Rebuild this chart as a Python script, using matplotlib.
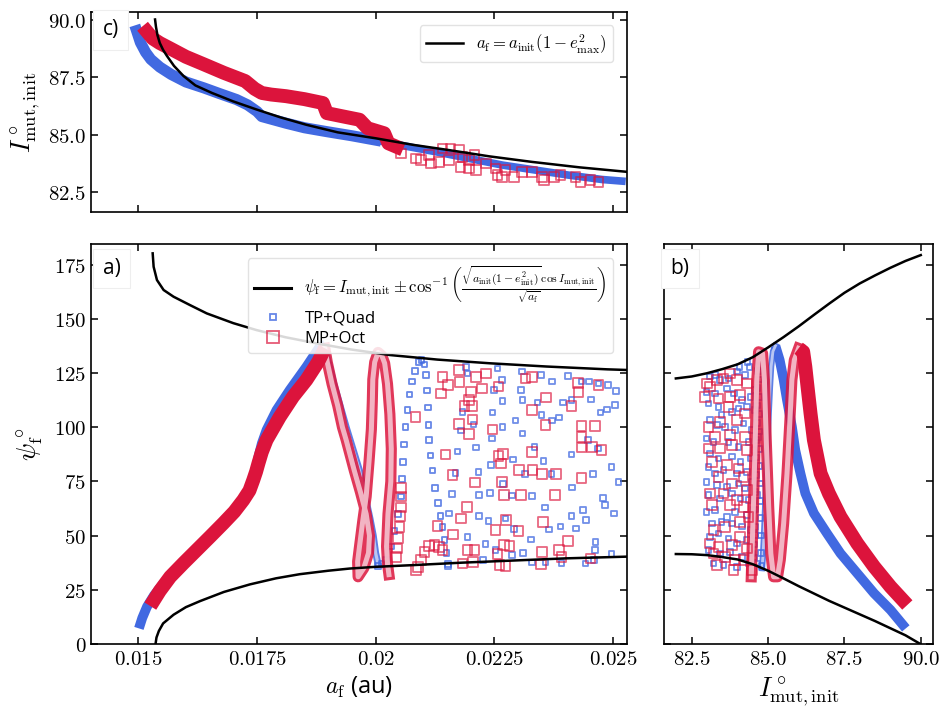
import matplotlib
matplotlib.use("Agg")
import matplotlib.pyplot as plt
from matplotlib.lines import Line2D

plt.rcParams['mathtext.fontset'] = 'cm'
plt.rcParams['font.family'] = ['Open Sans', 'DejaVu Sans']

BLUE = '#4169e1'
RED = '#dc143c'
BLUE_IN = '#c5d0f5'
RED_IN = '#f5c3cf'

# ---- black analytic curves ----
a_upper_x = [0.0153, 0.01532, 0.01539, 0.01553, 0.01574, 0.01609, 0.01644, 0.0170, 0.01749, 0.0181, 0.01875, 0.0195,
             0.0203, 0.0213, 0.0224, 0.0236, 0.02488, 0.0253]
a_upper_y = [180.2, 174.0, 167.9, 163.3, 160.2, 156.3, 152.5, 148.0, 144.8, 141.5, 138.7, 135.8, 133.3, 131.2, 129.5,
             128.0, 126.7, 126.4]
a_lower_x = [0.01536, 0.01538, 0.01543, 0.01552, 0.01574, 0.016, 0.0163, 0.0168, 0.01735, 0.0179, 0.0184, 0.019,
             0.01945, 0.0200, 0.0208, 0.0218, 0.0229, 0.024, 0.0253]
a_lower_y = [0.0, 3.0, 6.0, 9.5, 13.5, 17.0, 19.8, 24.0, 27.5, 30.3, 32.2, 33.8, 34.8, 35.6, 36.4, 37.5, 38.5, 39.5, 40.3]

b_upper_x = [81.98, 82.5, 83.0, 83.5, 84.0, 84.5, 85.0, 85.5, 86.0, 86.5, 87.0, 87.5, 88.0, 88.5, 89.0, 89.5, 90.0]
b_upper_y = [122.5, 123.4, 124.9, 126.8, 129.0, 132.3, 136.8, 141.5, 146.5, 151.8, 157.0, 162.0, 166.3, 170.0, 173.5,
             176.7, 179.4]
b_lower_x = [81.98, 82.5, 83.0, 83.5, 84.0, 84.5, 85.0, 85.5, 86.0, 86.5, 87.0, 87.5, 88.0, 88.5, 89.0, 89.5, 89.95]
b_lower_y = [41.5, 41.4, 41.0, 40.1, 39.0, 36.8, 33.8, 30.3, 26.7, 23.3, 19.9, 16.8, 13.7, 10.6, 7.3, 4.0, 0.3]

c_curve_x = [0.01535, 0.01537, 0.0154, 0.01545, 0.01552, 0.0156, 0.01575, 0.01595, 0.0162, 0.01655, 0.017, 0.0175,
             0.018, 0.01854, 0.0192, 0.0200, 0.0208, 0.02156, 0.0224, 0.02329, 0.0243, 0.02532]
c_curve_y = [90.03, 89.7, 89.35, 89.0, 88.7, 88.44, 88.0, 87.56, 87.15, 86.82, 86.45, 86.09, 85.75, 85.43, 85.1, 84.84,
             84.55, 84.32, 84.05, 83.81, 83.57, 83.37]

# ---- panel a: psi_f vs a_f ----
a_blue_rise_x = [0.01501, 0.01508, 0.01518, 0.01533, 0.01553, 0.0158, 0.01609, 0.01637, 0.01665, 0.0169, 0.01714,
                 0.01729, 0.01739, 0.01747, 0.01753, 0.0176, 0.0177, 0.01791, 0.01819, 0.01854, 0.01882]
a_blue_rise_y = [7.2, 12.0, 17.2, 22.5, 28.0, 34.5, 40.3, 46.5, 52.6, 58.7, 64.9, 69.5, 74.1, 80.0, 86.4, 92.5, 98.7,
                 107.9, 117.2, 127.9, 137.1]
a_blue_desc_x = [0.01886, 0.01895, 0.01903, 0.01912, 0.01925, 0.01938, 0.01952, 0.01966, 0.01978, 0.01988, 0.01995, 0.0200, 0.02005]
a_blue_desc_y = [138, 134, 128, 120, 110, 100, 90, 80, 68, 58, 50, 42, 37]
a_blue_arch_x = [0.02005, 0.02012, 0.02022, 0.02032, 0.0204, 0.02047, 0.02053, 0.02056, 0.02058, 0.0206, 0.02063,
                 0.02067, 0.02071, 0.02077, 0.02083, 0.0209, 0.02097, 0.02103, 0.02106, 0.02108, 0.0211, 0.02111,
                 0.02113, 0.02116, 0.0212, 0.02125, 0.02131, 0.02137, 0.02141, 0.02145, 0.02149, 0.02152]
a_blue_arch_y = [36, 37, 39, 45, 52, 60, 68, 76, 84, 92, 100, 108, 115, 121, 126, 130, 131, 129, 124, 117, 109, 101,
                 94, 87, 80, 72, 65, 59, 54, 48, 42, 37]
a_blue_scat_x = [0.0219, 0.02194, 0.02257, 0.02266, 0.02309, 0.02348, 0.02372, 0.02406, 0.02434, 0.0245, 0.0247, 0.0249,
                 0.02507, 0.0225, 0.02306, 0.02267, 0.0231, 0.02341, 0.02395, 0.02413, 0.02454, 0.02504, 0.02488, 0.02474,
                 0.02386, 0.02372, 0.0235, 0.02246, 0.02183, 0.02295, 0.02267, 0.0218, 0.02206, 0.0231, 0.02245, 0.02211,
                 0.02173, 0.02335, 0.02413, 0.02448, 0.02469, 0.02497, 0.02512, 0.02458, 0.02371, 0.02354, 0.02315, 0.0229,
                 0.02243, 0.02217, 0.02168, 0.02161, 0.02218, 0.02241, 0.02268, 0.02288, 0.0233, 0.02414, 0.02479, 0.02484,
                 0.02502, 0.02437, 0.02413, 0.02357, 0.02218, 0.02238, 0.02274, 0.02292, 0.02328, 0.02155, 0.02194, 0.02232,
                 0.02253, 0.02288, 0.02311, 0.0233, 0.02365, 0.0239, 0.02422, 0.02443, 0.02463, 0.02462, 0.02497, 0.0246,
                 0.02442, 0.02392, 0.02358, 0.02226, 0.02152]
a_blue_scat_y = [127.9, 124.8, 127.1, 121.7, 125.6, 124.0, 121.0, 123.6, 121.0, 121.0, 120.2, 119.4, 116.8, 117.1, 117.1,
                 112.2, 112.5, 111.3, 111.3, 112.5, 112.8, 110.2, 108.2, 106.7, 104.5, 103.0, 105.6, 106.7, 107.1, 103.0,
                 100.2, 98.4, 101.3, 97.1, 94.8, 90.7, 88.7, 91.0, 87.4, 94.0, 90.2, 81.7, 74.8, 78.4, 78.4, 84.5, 78.4,
                 85.1, 82.5, 79.4, 79.0, 69.1, 68.7, 69.7, 73.7, 68.4, 68.2, 72.2, 67.4, 64.1, 60.2, 61.7, 59.0, 63.0,
                 59.0, 56.8, 57.9, 53.0, 48.2, 60.2, 49.4, 46.1, 43.3, 41.0, 42.1, 37.6, 52.8, 54.1, 53.3, 57.1, 47.1,
                 43.3, 41.4, 38.7, 37.1, 37.4, 37.9, 38.7, 36.0]

a_red_rise_x = [0.01525, 0.01545, 0.01567, 0.01595, 0.01623, 0.01651, 0.01679, 0.01702, 0.01721, 0.01734, 0.01742,
                0.01748, 0.01753, 0.0176, 0.0177, 0.01798, 0.01826, 0.01854, 0.01879, 0.01893]
a_red_rise_y = [17.5, 24.5, 31.0, 37.3, 43.4, 49.5, 55.7, 61.0, 66.4, 70.8, 75.6, 79.5, 83.4, 88.5, 94.1, 104.8, 114.1,
                121.8, 130.2, 136.4]
a_red_loop_x = [0.01893, 0.01898, 0.01908, 0.0192, 0.0193, 0.01938, 0.01955, 0.01968, 0.0198, 0.01987, 0.01985, 0.01975,
                0.01963, 0.01962, 0.01966, 0.01973, 0.0198, 0.01986, 0.01991, 0.01993, 0.01994, 0.01998, 0.02005,
                0.02013, 0.02019, 0.02025, 0.0203, 0.02033, 0.02032, 0.02026, 0.02023, 0.02025, 0.02028]
a_red_loop_y = [136.4, 130, 120, 110, 100, 94, 80, 70, 60, 50, 42, 35, 31, 38, 45, 57, 68, 84, 99, 112, 122, 130, 134.5,
                133, 129.5, 120, 106, 90, 75, 60, 45, 37, 32]
a_red_scat_x = [0.02141, 0.02176, 0.02177, 0.02152, 0.02138, 0.02201, 0.02197, 0.02211, 0.02232, 0.02224, 0.02259, 0.02187,
                0.02203, 0.02316, 0.02329, 0.0233, 0.02359, 0.02413, 0.02427, 0.02428, 0.0247, 0.02084, 0.02176, 0.02197,
                0.02204, 0.02246, 0.02358, 0.02434, 0.02462, 0.02434, 0.02434, 0.02456, 0.02476, 0.0233, 0.02259, 0.02268,
                0.02264, 0.02147, 0.02162, 0.0221, 0.02266, 0.02302, 0.02331, 0.02351, 0.0238, 0.02434, 0.02193, 0.02271,
                0.02306, 0.02378, 0.0218, 0.0213, 0.02163, 0.02253, 0.02275, 0.02301, 0.02353, 0.02406, 0.02194, 0.02208,
                0.02257, 0.02271, 0.02282, 0.02351, 0.02386, 0.02392, 0.02453, 0.02183, 0.02205, 0.02261, 0.02274, 0.02349,
                0.02054, 0.02054, 0.02053, 0.02051, 0.0205, 0.02047, 0.02045, 0.02043,
                0.02085, 0.02089, 0.02096, 0.02103, 0.02113, 0.02124, 0.02134, 0.02141]
a_red_scat_y = [123.3, 126.3, 121.0, 119.4, 115.6, 116.3, 112.5, 123.3, 124.8, 117.9, 118.7, 109.7, 109.7, 122.5, 123.3,
                107.9, 113.7, 109.7, 120.5, 116.3, 119.4, 104.8, 101.4, 96.8, 103.6, 99.0, 101.0, 100.5, 100.5, 95.6,
                90.7, 91.0, 89.4, 88.7, 86.7, 87.6, 83.3, 87.4, 77.9, 74.5, 74.8, 80.2, 80.2, 78.4, 78.4, 76.7, 63.3,
                68.7, 68.7, 68.7, 57.9, 54.4, 50.5, 52.5, 57.1, 52.1, 56.4, 47.6, 43.3, 43.3, 41.4, 45.6, 45.1, 42.5,
                43.3, 40.2, 39.5, 37.1, 37.9, 36.4, 35.9, 36.7,
                72, 68, 63, 59, 54, 49, 44, 40,
                34.0, 35.6, 38.7, 42.5, 45.1, 45.6, 44.8, 43.3]

# ---- panel b: psi_f vs I_mut,init ----
b_blue_rise_x = [89.51, 89.01, 88.47, 87.92, 87.37, 86.93, 86.5, 86.22, 86.06, 85.89, 85.78, 85.62, 85.51, 85.38, 85.24]
b_blue_rise_y = [7.2, 15.7, 23.4, 32.6, 41.8, 51.0, 60.3, 69.5, 78.7, 89.5, 100.3, 112.5, 121.8, 131.0, 137.5]
b_blue_desc_x = [85.24, 85.16, 85.1, 85.06, 85.02, 84.98, 84.95, 84.92, 84.89, 84.86, 84.83, 84.8]
b_blue_desc_y = [137.5, 135, 128, 118, 106, 94, 82, 70, 58, 48, 40, 35]
b_blue_col_x = [84.78, 84.77, 84.76, 84.75, 84.74, 84.73, 84.72, 84.72, 84.71, 84.71, 84.7, 84.7, 84.69, 84.68, 84.67,
                84.65, 84.64, 84.63, 84.62, 84.61, 84.6, 84.59, 84.58, 84.57, 84.56, 84.55]
b_blue_col_y = [36, 42, 50, 58, 66, 74, 82, 90, 98, 106, 114, 122, 128, 131, 126, 118, 110, 102, 94, 86, 78, 70, 62, 54,
                46, 40]
b_blue_scat_x = [83.1, 83.27, 83.43, 83.7, 83.98, 84.06, 84.33, 84.39, 84.25, 82.99, 83.27, 83.65, 83.89, 84.14, 84.42,
                 84.58, 83.05, 83.38, 83.48, 83.81, 84.03, 84.31, 84.58, 83.1, 83.32, 83.59, 83.92, 84.2, 84.47, 84.69,
                 82.99, 83.21, 83.7, 84.03, 84.36, 84.52, 83.1, 83.38, 83.81, 84.09, 84.42, 83.05, 83.27, 83.54, 83.98,
                 84.31, 82.99, 83.32, 83.65, 84.03, 84.25, 84.47, 83.05, 83.43, 83.81, 84.09, 84.36, 84.63, 82.99, 83.27,
                 83.65, 83.92, 84.31, 84.52, 83.16, 83.48, 83.81, 84.14, 84.42, 83.1, 83.38, 83.7, 83.98, 84.31, 84.58,
                 83.05, 83.43, 83.76, 84.14, 84.47, 83.21, 83.54, 83.98, 84.36, 84.63]
b_blue_scat_y = [123.3, 124.0, 121.7, 122.5, 125.6, 127.9, 130.2, 127.9, 124.0, 116.3, 115.6, 117.9, 115.6, 112.5, 114.0,
                 117.1, 111.0, 109.4, 105.6, 107.1, 108.7, 109.4, 107.9, 103.3, 101.0, 100.2, 98.7, 101.7, 98.7, 95.6,
                 94.8, 93.3, 93.3, 91.0, 93.3, 89.4, 87.9, 85.6, 86.4, 84.0, 85.6, 81.7, 78.7, 80.2, 78.7, 79.4, 74.8,
                 73.3, 72.5, 74.0, 71.7, 74.8, 68.7, 67.1, 69.4, 67.1, 66.4, 68.7, 61.0, 61.7, 58.7, 61.0, 59.4, 61.7,
                 55.6, 56.4, 55.6, 54.1, 52.5, 49.4, 51.0, 48.7, 46.4, 47.9, 50.2, 43.3, 41.8, 42.5, 40.2, 41.8, 37.1,
                 36.4, 35.6, 37.1, 37.1]

b_red_rise_x = [89.56, 89.01, 88.47, 87.92, 87.37, 86.99, 86.72, 86.5, 86.39, 86.28, 86.22, 86.15, 86.0]
b_red_rise_y = [18.0, 26.4, 35.7, 46.4, 58.7, 69.5, 78.7, 94.1, 106.4, 120.2, 127.9, 134.8, 136.4]
b_red_loop_x = [86.0, 85.86, 85.78, 85.71, 85.62, 85.51, 85.4, 85.31, 85.18, 85.09, 85.02, 84.94, 84.88, 84.82, 84.69,
                84.63, 84.58, 84.52, 84.47, 84.45]
b_red_loop_y = [136.4, 131.0, 121.8, 101.8, 78.7, 55.6, 38.8, 31.0, 31.0, 41.8, 63.3, 94.1, 121.8, 134.1, 134.8, 121.8,
                94.1, 63.3, 40.3, 31.0]
b_red_scat_x = [82.99, 83.1, 83.32, 83.54, 83.76, 83.98, 84.31, 82.94, 83.38, 83.76, 84.09, 83.7, 84.25, 83.05, 83.43,
                83.98, 83.27, 83.76, 84.25, 83.05, 83.43, 83.81, 84.31, 83.16, 83.65, 84.03, 83.38, 83.81, 84.2, 83.1,
                83.54, 83.98, 84.31, 83.16, 83.76, 84.2, 83.21, 83.59, 84.09, 84.36, 83.1, 83.38, 83.81, 84.09, 84.31,
                83.21, 83.59, 83.92, 84.2, 83.32, 83.87, 84.47]
b_red_scat_y = [120.2, 118.7, 121.7, 122.5, 124.8, 121.7, 120.2, 114.0, 113.3, 114.0, 114.8, 109.4, 106.3, 100.2, 102.5,
                103.3, 95.6, 96.4, 95.6, 90.2, 90.2, 91.7, 89.4, 84.0, 82.5, 81.0, 77.1, 74.0, 77.1, 69.4, 69.4, 66.4,
                71.0, 64.1, 64.1, 63.3, 52.5, 54.1, 56.4, 58.7, 46.4, 44.8, 45.6, 49.4, 44.1, 41.8, 40.2, 38.7, 38.7,
                36.4, 34.1, 34.1]

# ---- panel c: I_mut,init vs a_f ----
c_blue_x = [0.01496, 0.01504, 0.01515, 0.01526, 0.01545, 0.01569, 0.016, 0.01638, 0.0167, 0.01707, 0.0173, 0.0175,
            0.0176, 0.01811, 0.0185, 0.01897, 0.0195, 0.0200, 0.0207, 0.02127, 0.02197, 0.02267, 0.02337, 0.02407,
            0.02477, 0.02519]
c_blue_y = [89.54, 89.03, 88.6, 88.29, 87.95, 87.63, 87.3, 87.04, 86.8, 86.53, 86.3, 86.01, 85.79, 85.5, 85.3, 85.13,
            84.95, 84.76, 84.47, 84.25, 83.96, 83.67, 83.45, 83.23, 83.04, 82.97]
c_red_x = [0.01518, 0.0153, 0.01545, 0.01569, 0.016, 0.01638, 0.0168, 0.01725, 0.01745, 0.0176, 0.0178, 0.01811, 0.0185,
           0.01889, 0.01897, 0.0193, 0.01966, 0.01983, 0.02018, 0.02027, 0.02044]
c_red_y = [89.5, 89.2, 89.0, 88.74, 88.4, 88.07, 87.7, 87.34, 87.0, 86.82, 86.75, 86.68, 86.55, 86.38, 85.94, 85.8,
           85.65, 85.28, 85.06, 84.62, 84.47]
c_red_scat_x = [0.02054, 0.02085, 0.02096, 0.02117, 0.02134, 0.02141, 0.02158, 0.02176, 0.02183, 0.02197, 0.02208,
                0.02179, 0.02197, 0.02211, 0.02232, 0.02253, 0.02257, 0.02274, 0.02292, 0.02267, 0.02309, 0.0233,
                0.02351, 0.02355, 0.02376, 0.0239, 0.02421, 0.02432, 0.02453, 0.0247, 0.02113, 0.02155]
c_red_scat_y = [84.18, 83.96, 83.89, 83.74, 83.81, 84.40, 84.40, 84.35, 84.03, 83.89, 84.10, 83.59, 83.52, 83.45, 83.74,
                83.52, 83.23, 83.45, 83.16, 83.16, 83.38, 83.38, 83.16, 83.01, 83.16, 83.23, 83.16, 82.94, 83.01, 82.94,
                84.10, 83.89]

a_ticks = [0.015, 0.0175, 0.02, 0.0225, 0.025]
a_ticklabels = ['0.015', '0.0175', '0.02', '0.0225', '0.025']
psi_ticks = [0, 25, 50, 75, 100, 125, 150, 175]
inc_ticks = [82.5, 85.0, 87.5, 90.0]

fig = plt.figure(figsize=(9.53, 7.15), dpi=100)
ax_c = fig.add_axes([0.0955, 0.7035, 0.5625, 0.2795])
ax_a = fig.add_axes([0.0955, 0.0993, 0.5625, 0.5594])
ax_b = fig.add_axes([0.697, 0.0993, 0.282, 0.5594])

sb = 16   # blue marker area
sr = 48   # red marker area


def style(ax):
    ax.tick_params(direction='in', length=5, width=1.1, top=True, right=True, labelsize=15)
    for sp in ax.spines.values():
        sp.set_linewidth(1.2)


def label_box(ax, txt):
    ax.text(0.022, 0.965, txt, transform=ax.transAxes, fontsize=15, va='top', ha='left',
            bbox=dict(boxstyle='square,pad=0.45', fc='white', ec='#eeeeee', lw=0.8), zorder=10)


def ladder(ax, x, y, color, inner, lw, z):
    # a run of overlapping hollow squares: coloured edges, paler inside
    ax.plot(x, y, color=color, lw=lw, alpha=0.85, zorder=z, solid_joinstyle='round')
    ax.plot(x, y, color=inner, lw=lw * 0.45, alpha=0.9, zorder=z, solid_joinstyle='round')


def hollow(ax, x, y, s, color, alpha, z):
    ax.scatter(x, y, s=s, marker='s', facecolors='none', edgecolors=color, lw=1.3, alpha=alpha, zorder=z)


# panel a
ax_a.plot(a_blue_rise_x, a_blue_rise_y, color=BLUE, lw=7, solid_capstyle='butt', zorder=2)
ladder(ax_a, a_blue_desc_x, a_blue_desc_y, BLUE, BLUE_IN, 5, 2)
hollow(ax_a, a_blue_arch_x, a_blue_arch_y, sb, BLUE, 0.8, 2)
hollow(ax_a, a_blue_scat_x, a_blue_scat_y, sb, BLUE, 0.75, 2)
ladder(ax_a, a_red_loop_x, a_red_loop_y, RED, RED_IN, 8, 3)
ax_a.plot(a_red_rise_x, a_red_rise_y, color=RED, lw=10, solid_capstyle='butt', zorder=3)
hollow(ax_a, a_red_scat_x, a_red_scat_y, sr, RED, 0.65, 3)
ax_a.plot(a_upper_x, a_upper_y, color='black', lw=1.8, zorder=4)
ax_a.plot(a_lower_x, a_lower_y, color='black', lw=1.8, zorder=4)
ax_a.set_xlim(0.0140, 0.0253)
ax_a.set_ylim(0, 184.5)
ax_a.set_xticks(a_ticks)
ax_a.set_xticklabels(['$%s$' % t for t in a_ticklabels])
ax_a.set_yticks(psi_ticks)
ax_a.set_yticklabels(['$%d$' % t for t in psi_ticks])
ax_a.set_xlabel(r'$a_{\rm f}$ (au)', fontsize=17)
ax_a.set_ylabel(r'$\psi^\circ_{\rm f}$', fontsize=19, labelpad=6)
style(ax_a)
label_box(ax_a, 'a)')

handles = [Line2D([], [], color='black', lw=2.2),
           Line2D([], [], ls='none', marker='s', ms=4.5, mfc='none', mec=BLUE, mew=1.3, alpha=0.8),
           Line2D([], [], ls='none', marker='s', ms=8, mfc='none', mec=RED, mew=1.3, alpha=0.7)]
labels = [r'$\psi_{\rm f} = I_{\rm mut,init} \pm \cos^{-1}\left(\frac{\sqrt{a_{\rm init}(1-e^2_{\rm init})}\,\cos I_{\rm mut,init}}{\sqrt{a_{\rm f}}}\right)$',
          'TP+Quad', 'MP+Oct']
ax_a.legend(handles, labels, loc='upper right', fontsize=12, framealpha=0.85, edgecolor='#dddddd',
            handlelength=2.2, borderpad=0.4, labelspacing=0.25, bbox_to_anchor=(0.99, 0.985))

# panel b
ax_b.plot(b_blue_rise_x, b_blue_rise_y, color=BLUE, lw=7, solid_capstyle='butt', zorder=2)
ladder(ax_b, b_blue_desc_x, b_blue_desc_y, BLUE, BLUE_IN, 4.5, 2)
hollow(ax_b, b_blue_col_x, b_blue_col_y, sb, BLUE, 0.8, 2)
hollow(ax_b, b_blue_scat_x, b_blue_scat_y, sb, BLUE, 0.75, 2)
ladder(ax_b, b_red_loop_x, b_red_loop_y, RED, RED_IN, 8, 3)
ax_b.plot(b_red_rise_x, b_red_rise_y, color=RED, lw=10, solid_capstyle='butt', zorder=3)
hollow(ax_b, b_red_scat_x, b_red_scat_y, sr, RED, 0.65, 3)
ax_b.plot(b_upper_x, b_upper_y, color='black', lw=1.8, zorder=4)
ax_b.plot(b_lower_x, b_lower_y, color='black', lw=1.8, zorder=4)
ax_b.set_xlim(81.6, 90.4)
ax_b.set_ylim(0, 184.5)
ax_b.set_xticks(inc_ticks)
ax_b.set_xticklabels(['$%.1f$' % t for t in inc_ticks])
ax_b.set_yticks(psi_ticks)
ax_b.set_yticklabels([])
ax_b.set_xlabel(r'$I^\circ_{\rm mut,init}$', fontsize=19)
style(ax_b)
label_box(ax_b, 'b)')

# panel c
ax_c.plot(c_blue_x, c_blue_y, color=BLUE, lw=5.5, zorder=2)
ax_c.plot(c_blue_x[:18], c_blue_y[:18], color=BLUE, lw=8, zorder=2)
ax_c.plot(c_red_x, c_red_y, color=RED, lw=10, zorder=3)
hollow(ax_c, c_red_scat_x, c_red_scat_y, sr, RED, 0.65, 3)
ax_c.plot(c_curve_x, c_curve_y, color='black', lw=1.8, zorder=4,
          label=r'$a_{\rm f} = a_{\rm init}(1-e^2_{\rm max})$')
ax_c.set_xlim(0.0140, 0.0253)
ax_c.set_ylim(81.62, 90.35)
ax_c.set_xticks(a_ticks)
ax_c.set_xticklabels([])
ax_c.set_yticks(inc_ticks)
ax_c.set_yticklabels(['$%.1f$' % t for t in inc_ticks])
ax_c.set_ylabel(r'$I^\circ_{\rm mut,init}$', fontsize=19)
ax_c.legend(loc='upper right', fontsize=12, framealpha=0.85, edgecolor='#dddddd', handlelength=2.2,
            borderpad=0.4, bbox_to_anchor=(0.99, 0.975))
style(ax_c)
label_box(ax_c, 'c)')

fig.savefig('out.png', dpi=100)
